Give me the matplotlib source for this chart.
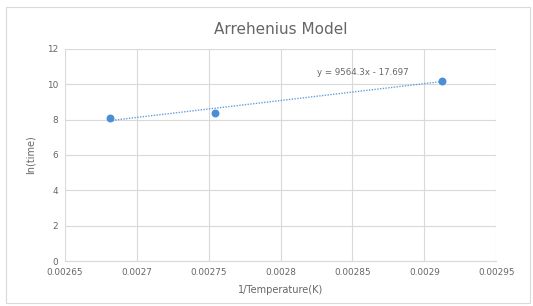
import matplotlib.pyplot as plt
import numpy as np
from matplotlib.patches import Rectangle

inv_temp = [0.002681, 0.0027545, 0.002912]
ln_time = [8.1, 8.4, 10.2]
slope = 9564.3
intercept = -17.697
x_ticks = [0.00265, 0.0027, 0.00275, 0.0028, 0.00285, 0.0029, 0.00295]
x_tick_labels = ["0.00265", "0.0027", "0.00275", "0.0028", "0.00285", "0.0029", "0.00295"]
y_ticks = [0, 2, 4, 6, 8, 10, 12]

TEXT = "#666666"
BLUE = "#4a8fd6"

fig = plt.figure(figsize=(5.33, 3.06), dpi=100)
fig.patches.append(Rectangle((0.012, 0.01), 0.983, 0.967, transform=fig.transFigure,
                             fill=False, edgecolor="#d9d9d9", linewidth=0.8))
ax = fig.add_axes([0.122, 0.147, 0.809, 0.693])

trend_x = np.array([inv_temp[0], inv_temp[-1]])
ax.plot(trend_x, slope * trend_x + intercept, linestyle=(0, (1, 1)), color=BLUE, linewidth=1.0, alpha=0.85)
ax.scatter(inv_temp, ln_time, s=22, color=BLUE, zorder=3)

ax.set_xlim(x_ticks[0], x_ticks[-1])
ax.set_ylim(0, 12)
ax.set_xticks(x_ticks)
ax.set_xticklabels(x_tick_labels)
ax.set_yticks(y_ticks)
ax.grid(True, color="#d9d9d9", linewidth=0.8)
ax.set_axisbelow(True)
for side in ["top", "right", "left"]:
    ax.spines[side].set_visible(False)
ax.spines["bottom"].set_color("#d9d9d9")
ax.tick_params(length=0, labelsize=6.4, colors=TEXT, pad=5)

ax.set_xlabel("1/Temperature(K)", fontsize=7, color=TEXT, labelpad=6)
ax.set_ylabel("ln(time)", fontsize=7, color=TEXT, labelpad=8)
ax.set_title("Arrehenius Model", fontsize=11, color=TEXT, pad=11)
ax.text(0.002857, 10.5, "y = 9564.3x - 17.697", fontsize=6.2, color=TEXT, ha="center")

fig.savefig("out.png", dpi=100)
